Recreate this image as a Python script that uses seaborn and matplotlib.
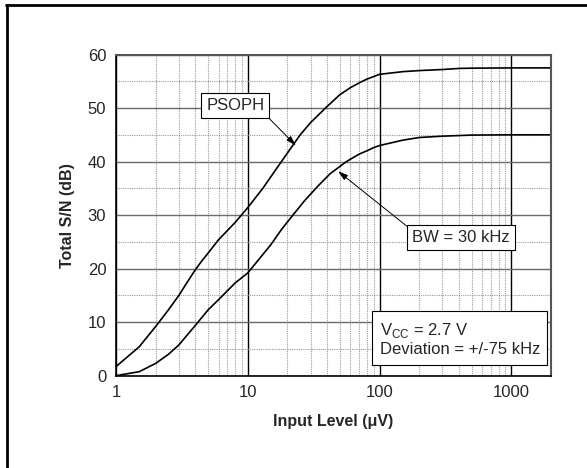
import numpy as np
import matplotlib
matplotlib.use("Agg")
import matplotlib.pyplot as plt
import matplotlib.lines as mlines
from matplotlib.ticker import LogLocator, FixedLocator, NullFormatter
import seaborn as sns

# curves
psoph_x = [1, 1.5, 2, 2.5, 3, 3.5, 4, 4.5, 5, 6, 8, 10, 13, 18, 25, 30, 40, 50, 60, 70, 80, 100, 150, 200, 300, 400, 500, 1000, 2000]
psoph_y = [1.7, 5.4, 9.2, 12.3, 15.0, 17.6, 19.8, 21.5, 22.9, 25.4, 28.6, 31.4, 35.0, 40.0, 45.0, 47.3, 50.3, 52.5, 53.8, 54.7, 55.4, 56.3, 56.8, 57.0, 57.2, 57.4, 57.45, 57.5, 57.5]
bw_x = [1, 1.5, 2, 2.5, 3, 4, 5, 6, 8, 10, 15, 18, 22, 27, 34, 42, 56, 70, 80, 90, 100, 150, 200, 300, 500, 1000, 2000]
bw_y = [0.0, 0.75, 2.3, 4.0, 5.75, 9.4, 12.3, 14.2, 17.3, 19.2, 24.5, 27.3, 30.0, 32.7, 35.4, 37.7, 40.0, 41.4, 42.0, 42.6, 43.0, 44.0, 44.5, 44.75, 44.95, 45.0, 45.0]

x_ticks = [1, 10, 100, 1000]
x_tick_labels = ["1", "10", "100", "1000"]
y_ticks = [0, 10, 20, 30, 40, 50, 60]

sns.set_style("white")
plt.rcParams["font.family"] = ["Liberation Sans", "DejaVu Sans"]

fig, ax = plt.subplots(figsize=(5.87, 4.68), dpi=100)
fig.subplots_adjust(left=0.1976, right=0.9387, top=0.8835, bottom=0.1972)

sns.lineplot(x=psoph_x, y=psoph_y, ax=ax, color="black", lw=1.2)
sns.lineplot(x=bw_x, y=bw_y, ax=ax, color="black", lw=1.2)

ax.set_xscale("log")
ax.set_xlim(1, 2000)
ax.set_ylim(0, 60)
ax.xaxis.set_major_locator(FixedLocator(x_ticks))
ax.set_xticklabels(x_tick_labels)
ax.xaxis.set_minor_locator(LogLocator(base=10, subs=range(2, 10)))
ax.xaxis.set_minor_formatter(NullFormatter())
ax.set_yticks(y_ticks)
ax.yaxis.set_minor_locator(FixedLocator([5, 15, 25, 35, 45, 55]))

# grid: solid majors, dotted minors
ax.grid(True, axis="x", which="major", color="black", lw=1.0, ls="-")
ax.grid(True, axis="y", which="major", color="#6a6a6a", lw=1.0, ls="-")
ax.grid(True, which="minor", color="#9a9a9a", lw=0.8, ls=(0, (1, 1)))
ax.set_axisbelow(True)

ax.tick_params(which="major", direction="in", length=5, width=1, labelsize=12, pad=7, color="black")
ax.tick_params(which="minor", direction="in", length=3, width=0.8, color="black")
ax.tick_params(axis="y", which="minor", length=0)
ax.tick_params(top=False, right=False)

for side in ["left", "bottom"]:
    ax.spines[side].set_color("black")
    ax.spines[side].set_linewidth(1.2)
for side in ["top", "right"]:
    ax.spines[side].set_color("#555555")
    ax.spines[side].set_linewidth(1.5)

ax.set_xlabel("Input Level (\u03bcV)", fontsize=11.5, fontweight="bold", labelpad=10)
ax.set_ylabel("Total S/N (dB)", fontsize=11.5, fontweight="bold", labelpad=9)

box = dict(boxstyle="square,pad=0.3", fc="white", ec="black", lw=0.8)
head = "-|>,head_length=0.5,head_width=0.15"

# arrow tips sit on the curves
tip1_x = 22.5
tip1_y = np.interp(np.log10(tip1_x), np.log10(psoph_x), psoph_y)
tip2_x = 47.0
tip2_y = np.interp(np.log10(tip2_x), np.log10(bw_x), bw_y)

ax.annotate("PSOPH", xy=(tip1_x * 1.03, tip1_y - 0.4), xycoords="data",
            xytext=(0.274, 0.840), textcoords="axes fraction",
            ha="center", va="center", fontsize=12, bbox=box,
            arrowprops=dict(arrowstyle=head, color="black", lw=0.7,
                            relpos=(1, 0), shrinkA=0, shrinkB=0))

ax.annotate("BW = 30 kHz", xy=(tip2_x * 1.03, tip2_y - 0.4), xycoords="data",
            xytext=(0.793, 0.429), textcoords="axes fraction",
            ha="center", va="center", fontsize=12, bbox=box,
            arrowprops=dict(arrowstyle=head, color="black", lw=0.7,
                            relpos=(0, 1), shrinkA=0, shrinkB=0))

ax.text(0.606, 0.114, "V$_{\\mathregular{CC}}$ = 2.7 V\nDeviation = +/-75 kHz",
        transform=ax.transAxes, ha="left", va="center", fontsize=12,
        linespacing=1.2, bbox=dict(boxstyle="square,pad=0.45", fc="white", ec="black", lw=0.8))

# outer frame (left and top edges only)
fig.add_artist(mlines.Line2D([0.012, 0.012], [0.0, 0.989], transform=fig.transFigure, color="black", lw=2))
fig.add_artist(mlines.Line2D([0.011, 1.0], [0.989, 0.989], transform=fig.transFigure, color="black", lw=2))

fig.savefig("out.png", dpi=100)
